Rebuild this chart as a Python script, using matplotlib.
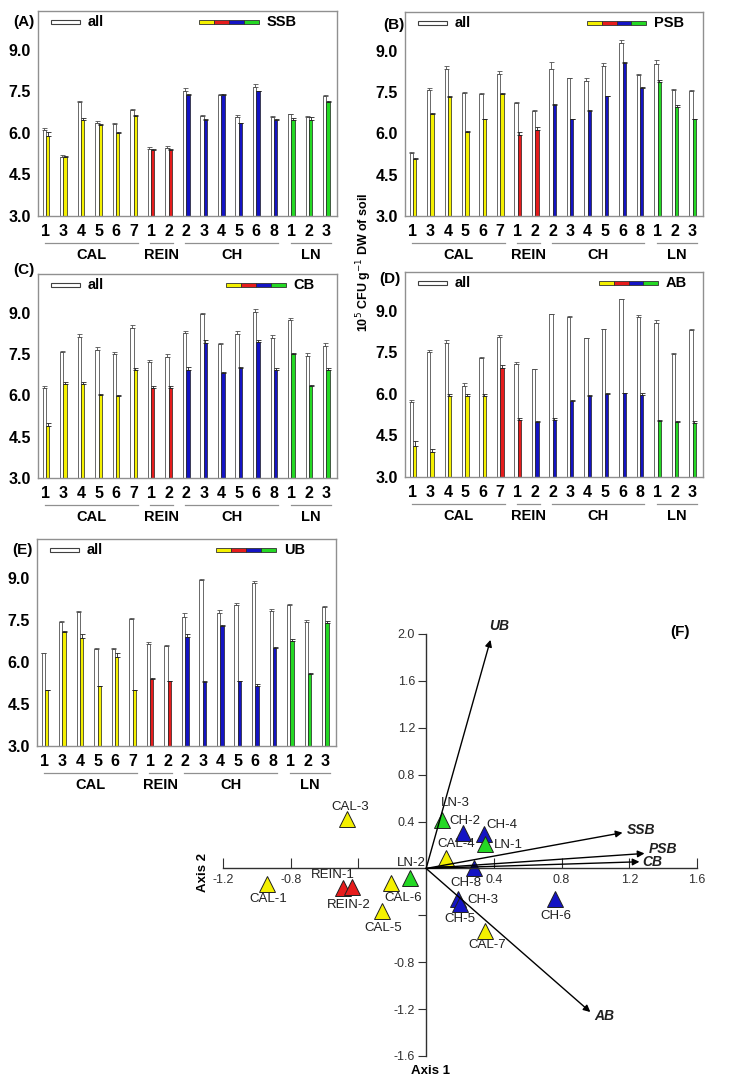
import numpy as np
import matplotlib.pyplot as plt
from matplotlib.patches import Rectangle
from matplotlib.transforms import blended_transform_factory

plt.rcParams['font.family'] = ['Liberation Sans', 'DejaVu Sans']

# sites (x tick labels) and their groups
sites = ['1', '3', '4', '5', '6', '7', '1', '2', '2', '3', '4', '5', '6', '8', '1', '2', '3']
groups = [('CAL', 0, 5), ('REIN', 6, 7), ('CH', 8, 13), ('LN', 14, 16)]

# (A) SSB
ssb_all = [6.10, 5.14, 7.10, 6.35, 6.33, 6.83, 5.42, 5.45, 7.53, 6.61, 7.37, 6.59, 7.65, 6.59, 6.67, 6.57, 7.34]
ssb_all_err = [0.08, 0.06, 0.06, 0.08, 0.02, 0.04, 0.08, 0.07, 0.08, 0.02, 0.03, 0.05, 0.12, 0.02, 0.02, 0.03, 0.02]
ssb = [5.89, 5.12, 6.45, 6.29, 5.99, 6.61, 5.39, 5.39, 7.37, 6.45, 7.37, 6.35, 7.50, 6.45, 6.47, 6.47, 7.13]
ssb_err = [0.13, 0.05, 0.07, 0.04, 0.06, 0.03, 0.02, 0.04, 0.04, 0.06, 0.03, 0.02, 0.02, 0.05, 0.07, 0.10, 0.02]

# (B) PSB
psb_all = [5.30, 7.57, 8.32, 7.47, 7.41, 8.15, 7.09, 6.81, 8.32, 7.99, 7.91, 8.44, 9.26, 8.11, 8.50, 7.57, 7.55]
psb_all_err = [0.02, 0.06, 0.12, 0.02, 0.05, 0.10, 0.03, 0.02, 0.28, 0.03, 0.10, 0.12, 0.12, 0.05, 0.15, 0.03, 0.02]
psb = [5.06, 6.70, 7.33, 6.04, 6.51, 7.41, 5.94, 6.12, 7.03, 6.51, 6.81, 7.35, 8.56, 7.63, 7.87, 6.97, 6.51]
psb_err = [0.05, 0.02, 0.02, 0.03, 0.01, 0.05, 0.10, 0.10, 0.02, 0.02, 0.02, 0.02, 0.04, 0.05, 0.07, 0.04, 0.02]

# (C) CB
cb_all = [6.27, 7.56, 8.13, 7.65, 7.50, 8.44, 7.20, 7.38, 8.25, 8.94, 7.86, 8.22, 9.03, 8.08, 8.73, 7.44, 7.80]
cb_all_err = [0.06, 0.05, 0.10, 0.10, 0.08, 0.10, 0.08, 0.12, 0.10, 0.05, 0.03, 0.10, 0.10, 0.12, 0.08, 0.08, 0.10]
cb = [4.90, 6.40, 6.40, 6.00, 5.97, 6.90, 6.27, 6.27, 6.90, 7.90, 6.80, 7.00, 7.95, 6.90, 7.50, 6.33, 6.90]
cb_err = [0.10, 0.08, 0.10, 0.04, 0.04, 0.10, 0.05, 0.05, 0.12, 0.10, 0.06, 0.03, 0.06, 0.10, 0.02, 0.03, 0.10]

# (D) AB
ab_all = [5.69, 7.53, 7.83, 6.27, 7.31, 8.04, 7.07, 6.89, 8.87, 8.79, 8.01, 8.33, 9.41, 8.76, 8.55, 7.43, 8.31]
ab_all_err = [0.10, 0.06, 0.12, 0.12, 0.02, 0.10, 0.08, 0.02, 0.02, 0.02, 0.02, 0.02, 0.02, 0.08, 0.10, 0.06, 0.02]
ab = [4.13, 3.92, 5.91, 5.91, 5.93, 6.93, 5.06, 4.97, 5.06, 5.76, 5.93, 6.00, 6.03, 5.97, 5.03, 4.97, 4.94]
ab_err = [0.16, 0.10, 0.10, 0.08, 0.08, 0.10, 0.08, 0.06, 0.06, 0.02, 0.02, 0.04, 0.02, 0.08, 0.02, 0.05, 0.08]

# (E) UB
ub_all = [6.31, 7.43, 7.79, 6.47, 6.45, 7.53, 6.66, 6.57, 7.62, 8.93, 7.77, 8.03, 8.82, 7.83, 8.04, 7.44, 7.97]
ub_all_err = [0.02, 0.05, 0.05, 0.02, 0.05, 0.05, 0.05, 0.05, 0.12, 0.05, 0.08, 0.08, 0.08, 0.06, 0.02, 0.05, 0.05]
ub = [4.99, 7.07, 6.87, 5.13, 6.19, 4.99, 5.40, 5.31, 6.90, 5.30, 7.29, 5.31, 5.13, 6.51, 6.77, 5.57, 7.38]
ub_err = [0.01, 0.05, 0.15, 0.03, 0.13, 0.01, 0.03, 0.01, 0.10, 0.02, 0.03, 0.02, 0.07, 0.04, 0.05, 0.04, 0.10]

# (F) ordination scores
pt_names = ['CAL-1', 'CAL-3', 'CAL-4', 'CAL-5', 'CAL-6', 'CAL-7', 'REIN-1', 'REIN-2',
            'CH-2', 'CH-3', 'CH-4', 'CH-5', 'CH-6', 'CH-8', 'LN-1', 'LN-2', 'LN-3']
pt_x = [-0.94, -0.47, 0.12, -0.26, -0.21, 0.35, -0.49, -0.44, 0.22, 0.19, 0.34, 0.20, 0.76, 0.28, 0.35, -0.095, 0.093]
pt_y = [-0.13, 0.42, 0.085, -0.36, -0.12, -0.53, -0.17, -0.16, 0.30, -0.26, 0.29, -0.30, -0.26, 0.0, 0.205, -0.085, 0.41]
vec_names = ['UB', 'SSB', 'PSB', 'CB', 'AB']
vec_x = [0.38, 1.16, 1.29, 1.26, 0.97]
vec_y = [1.95, 0.305, 0.128, 0.057, -1.225]

YEL, RED, BLU, GRN = '#f4f000', '#e61c1c', '#1414c4', '#24d824'
colors = [YEL] * 6 + [RED] * 2 + [BLU] * 6 + [GRN] * 3
colors_ab = [YEL] * 5 + [RED] * 2 + [BLU] * 7 + [GRN] * 3
pt_colors = [YEL] * 6 + [RED] * 2 + [BLU] * 6 + [GRN] * 3

fig = plt.figure(figsize=(7.39, 10.85), dpi=100)
W, H = 739.0, 1085.0


def pax(l, t, r, b):
    return fig.add_axes([l / W, 1 - b / H, (r - l) / W, (b - t) / H])


def bar_panel(ax, all_v, all_e, v, e, cols, name, letter, lab_xy, leg_x):
    x = np.arange(len(sites))
    w = 0.19
    ax.bar(x - w / 2, all_v, w, color='white', edgecolor='#505050', linewidth=0.6)
    ax.bar(x + w / 2, v, w, color=cols, edgecolor='#202020', linewidth=0.5)
    ax.errorbar(x - w / 2, all_v, yerr=[np.zeros(len(x)), all_e], fmt='none',
                ecolor='#505050', elinewidth=0.6, capsize=1.8, capthick=0.6)
    ax.errorbar(x + w / 2, v, yerr=[np.zeros(len(x)), e], fmt='none',
                ecolor='#202020', elinewidth=0.6, capsize=1.8, capthick=0.6)
    ax.set_xlim(-0.45, 16.6)
    ax.set_ylim(3.0, 10.4)
    ax.set_yticks([3.0, 4.5, 6.0, 7.5, 9.0])
    ax.set_yticklabels(['3.0', '4.5', '6.0', '7.5', '9.0'], fontsize=11.5, fontweight='bold')
    ax.set_xticks(x)
    ax.set_xticklabels(sites, fontsize=11.5, fontweight='bold')
    ax.tick_params(length=0, pad=5)
    ax.tick_params(axis='x', pad=6)
    for s in ax.spines.values():
        s.set_color('#909090')
        s.set_linewidth(1.0)
    tr = blended_transform_factory(ax.transData, ax.transAxes)
    for g, i0, i1 in groups:
        ax.plot([i0 - 0.05, i1 + 0.25], [-0.13, -0.13], color='#909090', lw=0.9,
                transform=tr, clip_on=False)
        ax.text((i0 + i1) / 2 + 0.1, -0.19, g, transform=tr, ha='center', va='center',
                fontsize=10.5, fontweight='bold')
    # legend
    ax.add_patch(Rectangle((0.042, 0.937), 0.1, 0.02, transform=ax.transAxes,
                           facecolor='white', edgecolor='#404040', lw=0.8))
    ax.text(0.165, 0.947, 'all', transform=ax.transAxes, va='center', fontsize=10.5,
            fontweight='bold')
    for k, c in enumerate([YEL, RED, BLU, GRN]):
        ax.add_patch(Rectangle((leg_x + k * 0.05, 0.937), 0.05, 0.02, transform=ax.transAxes,
                               facecolor=c, edgecolor='#303030', lw=0.6))
    ax.text(leg_x + 0.225, 0.947, name, transform=ax.transAxes, va='center', fontsize=10.5,
            fontweight='bold')
    ax.text(lab_xy[0], lab_xy[1], letter, transform=ax.transAxes, ha='center', va='center',
            fontsize=11, fontweight='bold')


axA = pax(38, 11, 337, 216)
bar_panel(axA, ssb_all, ssb_all_err, ssb, ssb_err, colors, 'SSB', '(A)', (-0.047, 0.946), 0.54)
axB = pax(405, 12, 703, 216)
bar_panel(axB, psb_all, psb_all_err, psb, psb_err, colors, 'PSB', '(B)', (-0.037, 0.936), 0.61)
axC = pax(38, 274, 337, 478)
bar_panel(axC, cb_all, cb_all_err, cb, cb_err, colors, 'CB', '(C)', (-0.047, 1.02), 0.63)
axD = pax(405, 272, 703, 477)
bar_panel(axD, ab_all, ab_all_err, ab, ab_err, colors_ab, 'AB', '(D)', (-0.05, 0.966), 0.65)
axE = pax(37, 539, 336, 746)
bar_panel(axE, ub_all, ub_all_err, ub, ub_err, colors, 'UB', '(E)', (-0.05, 0.947), 0.60)

fig.text(364 / W, 1 - 262 / H, r'10$^5$ CFU g$^{-1}$ DW of soil', rotation=90,
         ha='center', va='center', fontsize=9, fontweight='bold')

# (F) biplot
axF = pax(223, 634, 697, 1056)
axF.set_xlim(-1.2, 1.6)
axF.set_ylim(-1.6, 2.0)
for s in ['top', 'right']:
    axF.spines[s].set_visible(False)
axF.spines['left'].set_position(('data', 0))
axF.spines['bottom'].set_position(('data', 0))
for s in ['left', 'bottom']:
    axF.spines[s].set_color('#303030')
    axF.spines[s].set_linewidth(1.0)
axF.set_xticks([-1.2, -0.8, -0.4, 0.4, 0.8, 1.2, 1.6])
axF.set_xticklabels(['-1.2', '-0.8', '', '0.4', '0.8', '1.2', '1.6'], fontsize=9, color='#303030')
axF.set_yticks([-1.6, -1.2, -0.8, -0.4, 0.4, 0.8, 1.2, 1.6, 2.0])
axF.set_yticklabels(['-1.6', '-1.2', '-0.8', '', '0.4', '0.8', '1.2', '1.6', '2.0'],
                    fontsize=9, color='#303030')
axF.tick_params(axis='x', direction='in', length=7, pad=4, color='#303030')
axF.tick_params(axis='y', direction='out', length=6, pad=2, color='#303030')
axF.patch.set_alpha(0)

for vx, vy in zip(vec_x, vec_y):
    axF.annotate('', xy=(vx, vy), xytext=(0, 0),
                 arrowprops=dict(arrowstyle='-|>', color='black', lw=1.0,
                                 mutation_scale=10, shrinkA=0, shrinkB=0))
vec_lab = {'UB': (0.43, 2.07), 'SSB': (1.27, 0.33), 'PSB': (1.40, 0.17),
           'CB': (1.335, 0.057), 'AB': (1.05, -1.26)}
for n in vec_names:
    axF.text(vec_lab[n][0], vec_lab[n][1], n, ha='center', va='center', fontsize=10,
             fontweight='bold', style='italic', color='#202020')

for px, py, c in zip(pt_x, pt_y, pt_colors):
    axF.plot(px, py, marker='^', ms=11, color=c, mec='#202020', mew=0.7, ls='none')

pt_lab = {'CAL-1': (-0.93, -0.262), 'CAL-3': (-0.45, 0.527), 'CAL-4': (0.176, 0.205),
          'CAL-5': (-0.252, -0.504), 'CAL-6': (-0.138, -0.256), 'CAL-7': (0.363, -0.65),
          'REIN-1': (-0.554, -0.057), 'REIN-2': (-0.46, -0.316), 'CH-2': (0.229, 0.407),
          'CH-3': (0.335, -0.271), 'CH-4': (0.448, 0.37), 'CH-5': (0.197, -0.43),
          'CH-6': (0.767, -0.405), 'CH-8': (0.233, -0.128), 'LN-1': (0.487, 0.199),
          'LN-2': (-0.085, 0.048), 'LN-3': (0.172, 0.561)}
for n in pt_names:
    axF.text(pt_lab[n][0], pt_lab[n][1], n, ha='center', va='center', fontsize=9.5,
             color='#202020')

fig.text(203 / W, 1 - 872 / H, 'Axis 2', rotation=90, ha='center', va='center',
         fontsize=9.5, fontweight='bold')
fig.text(430 / W, 1 - 1071 / H, 'Axis 1', ha='center', va='center', fontsize=9.5,
         fontweight='bold')
fig.text(680 / W, 1 - 632 / H, '(F)', ha='center', va='center', fontsize=11,
         fontweight='bold')

fig.savefig('out.png', dpi=100)
